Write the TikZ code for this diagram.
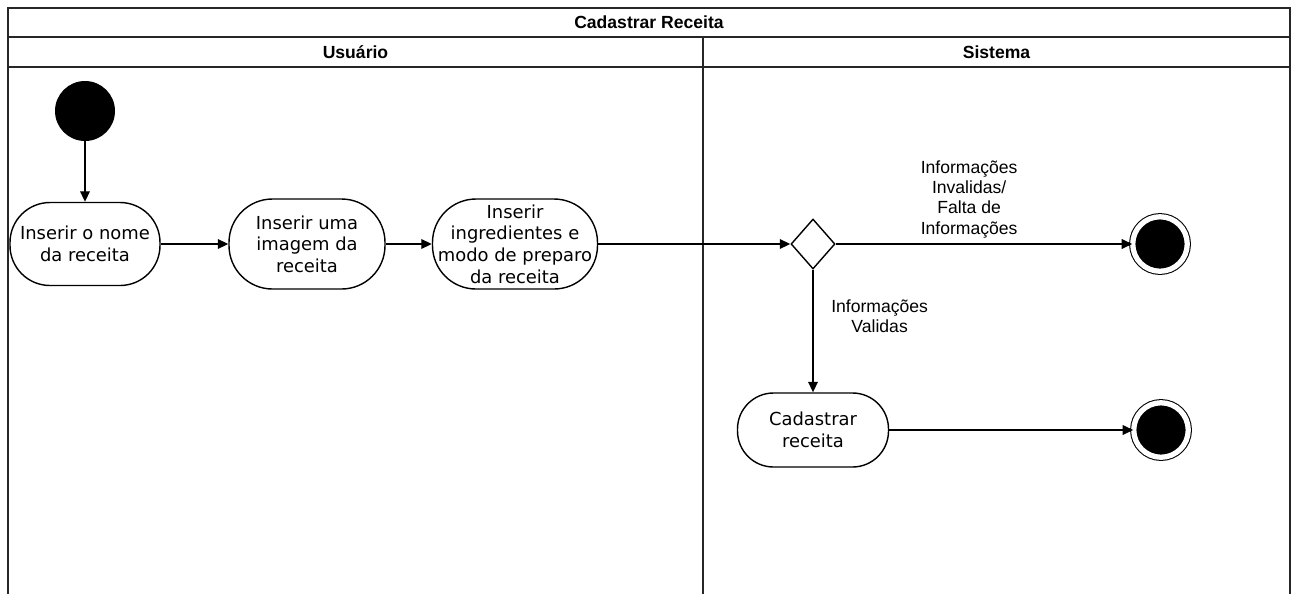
\documentclass[tikz,border=0pt]{standalone}
\usepackage{fontspec}
\setmainfont{Liberation Sans}
\newfontfamily\actfont{DejaVu Sans}
\usetikzlibrary{arrows.meta,shapes.geometric,positioning}
\tikzstyle{arrow}=[draw,-{Triangle[length=6pt,width=5.5pt]},thick]
\tikzstyle{lane}=[draw,thick,black!85]
\tikzstyle{head}=[font=\bfseries\fontsize{10}{12}\selectfont]
\tikzstyle{activity} =
  [rectangle, draw, thick, align=center, inner sep=1pt,
   font=\actfont\fontsize{10.2}{12.3}\selectfont]
\tikzstyle{initial}=[circle, fill=black, minimum size=1.2cm, inner sep=0pt]
\tikzstyle{final} =
  [circle, draw, line width=0.6pt, fill=black, double=white, double distance=3pt,
   minimum size=1.09cm, inner sep=0pt]
\tikzstyle{decision} =
  [diamond, draw, thick, fill=white, minimum width=0.88cm, minimum height=1cm,
   inner sep=0pt]
\tikzstyle{lbl}=[align=center, font=\fontsize{10}{11.6}\selectfont]

\begin{document}
\begin{tikzpicture}[node distance = 1.5cm]
  \useasboundingbox (0,0) rectangle (25.98,-11.88);
  % swimlanes
  \draw [lane] (0.16,-11.88) -- (0.16,-0.16) -- (25.80,-0.16) -- (25.80,-11.88);
  \draw [lane] (0.16,-0.74) -- (25.80,-0.74);
  \draw [lane] (0.16,-1.34) -- (25.80,-1.34);
  \draw [lane] (14.06,-0.74) -- (14.06,-11.88);
  \node [head] (title) at (12.98,-0.45) {Cadastrar Receita};
  \node [head] (usuario) at (7.11,-1.04) {Usuário};
  \node [head] (sistema) at (19.93,-1.04) {Sistema};

  % Usuario
  \node [initial] (start) at (1.70,-2.22) {};
  \node [activity, below of=start, node distance=2.66cm,
    minimum width=3cm, minimum height=1.66cm, rounded corners=0.8cm]
    (nome) {Inserir o nome\\da receita};
  \node [activity, right of=nome, node distance=4.44cm,
    minimum width=3.12cm, minimum height=1.8cm, rounded corners=0.87cm]
    (imagem) {Inserir uma\\imagem da\\receita};
  \node [activity, right of=imagem, node distance=4.16cm,
    minimum width=3.3cm, minimum height=1.8cm, rounded corners=0.87cm]
    (ingred) {Inserir\\ingredientes e\\modo de preparo\\da receita};

  % Sistema
  \node [decision, right of=ingred, node distance=5.96cm] (decisao) {};
  \node [final, right of=decisao, node distance=6.94cm] (fim1) {};
  \node [activity, below of=decisao, node distance=3.72cm,
    minimum width=3.02cm, minimum height=1.48cm, rounded corners=0.72cm]
    (cadastro) {Cadastrar\\receita};
  \node [final, right of=cadastro, node distance=6.96cm] (fim2) {};

  \draw [arrow] (start) to (nome);
  \draw [arrow] (nome) to (imagem);
  \draw [arrow] (imagem) to (ingred);
  \draw [arrow] (ingred) to (decisao);
  \draw [arrow] (decisao) to node [lbl, above, pos=0.45, inner sep=3pt] (invalidas)
    {Informações\\Invalidas/\\Falta de\\Informações} (fim1);
  \draw [arrow] (decisao) to node [lbl, right, pos=0.38, inner sep=10pt] (validas)
    {Informações\\Validas} (cadastro);
  \draw [arrow] (cadastro) to (fim2);
\end{tikzpicture}
\end{document}
